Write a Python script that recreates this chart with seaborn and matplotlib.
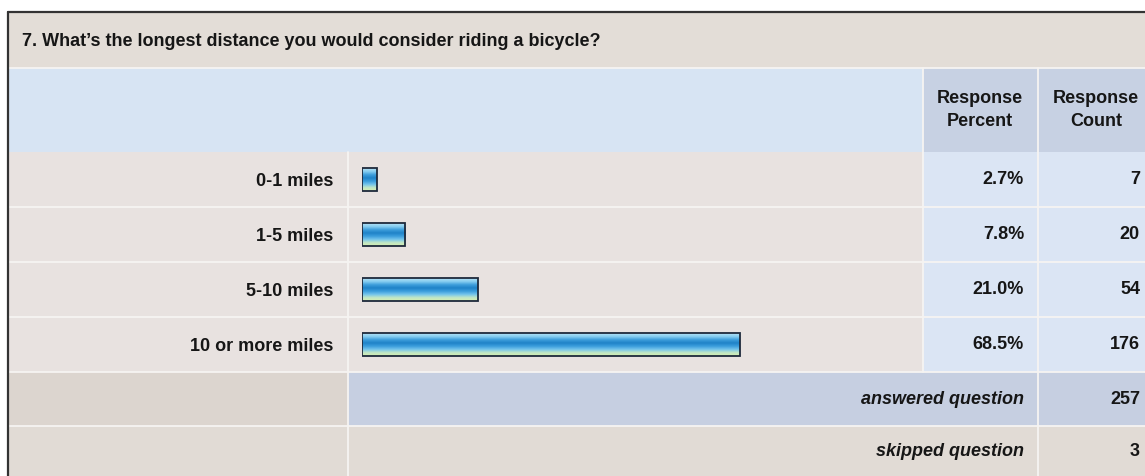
import numpy as np
import pandas as pd
import matplotlib
matplotlib.use("Agg")
import matplotlib.pyplot as plt
import matplotlib.transforms as mtransforms
from matplotlib.colors import LinearSegmentedColormap
from matplotlib.patches import Rectangle
import seaborn as sns

# ---- data ----
title = "7. What\u2019s the longest distance you would consider riding a bicycle?"
categories = ["0-1 miles", "1-5 miles", "5-10 miles", "10 or more miles"]
percent = [2.7, 7.8, 21.0, 68.5]
counts = [7, 20, 54, 176]
header_percent = "Response\nPercent"
header_count = "Response\nCount"
answered_label = "answered question"
answered_count = 257
skipped_label = "skipped question"
skipped_count = 3

sns.set_theme(style="white")
plt.rcParams["font.family"] = ["Liberation Sans", "DejaVu Sans"]

FS = 13
W, H = 1145, 476
fig = plt.figure(figsize=(W / 100, H / 100), dpi=100)
fig.patch.set_facecolor("white")

# background/table layout axes in pixel coordinates
bg = fig.add_axes([0, 0, 1, 1])
bg.set_xlim(0, W)
bg.set_ylim(H, 0)
bg.axis("off")

L, C1, C2, C3, R = 8, 348, 923, 1038, 1150
T, Y_HEAD, Y_ROWS = 12, 68, 152
ROW_H = 55
Y_ANS = Y_ROWS + ROW_H * len(categories)
Y_SKIP = Y_ANS + 54
B = 480

def cell(x0, y0, x1, y1, color):
    bg.add_patch(Rectangle((x0, y0), x1 - x0, y1 - y0, facecolor=color,
                           edgecolor="none", zorder=0))

cell(L, T, R, Y_HEAD, "#e3ddd7")
cell(L, Y_HEAD, C2, Y_ROWS, "#d7e4f3")
cell(C2, Y_HEAD, R, Y_ROWS, "#c7d1e3")
cell(L, Y_ROWS, C2, Y_ANS, "#e8e2e0")
cell(C2, Y_ROWS, R, Y_ANS, "#dbe5f4")
cell(L, Y_ANS, C1, Y_SKIP, "#dcd5cf")
cell(C1, Y_ANS, R, Y_SKIP, "#c6cfe1")
cell(L, Y_SKIP, R, B, "#e1dbd5")

sep = dict(color="#f6f4f2", lw=1.3, zorder=1)
for yy in [Y_HEAD] + [Y_ROWS + ROW_H * i for i in range(1, len(categories) + 1)] + [Y_SKIP]:
    bg.plot([L, R], [yy, yy], **sep)
bg.plot([C1, C1], [Y_ROWS, B], **sep)
bg.plot([C2, C2], [Y_HEAD, Y_ANS], **sep)
bg.plot([C3, C3], [Y_HEAD, B], **sep)

# outer border
bg.plot([L, L], [T, B], color="#333333", lw=1.6, zorder=5)
bg.plot([L, R], [T, T], color="#333333", lw=1.6, zorder=5)

txt = "#161616"
bg.text(22, (T + Y_HEAD) / 2 + 2, title, fontsize=FS, fontweight="bold",
        color=txt, ha="left", va="center")
bg.text(980, (Y_HEAD + Y_ROWS) / 2, header_percent, fontsize=FS,
        fontweight="bold", color=txt, ha="center", va="center", linespacing=1.5)
bg.text(1096, (Y_HEAD + Y_ROWS) / 2, header_count, fontsize=FS,
        fontweight="bold", color=txt, ha="center", va="center", linespacing=1.5)

# ---- bar axes ----
px_per_pct = 378 / 68.5
bar_left = 362
ax_w = 100 * px_per_pct
ax = fig.add_axes([bar_left / W, (H - Y_ANS) / H, ax_w / W, (ROW_H * len(categories)) / H])
ax.patch.set_alpha(0)
df = pd.DataFrame({"category": categories, "percent": percent})
sns.barplot(data=df, x="percent", y="category", orient="h", width=0.41,
            color="#2a8fd0", ax=ax)
ax.set_xlim(0, 100)
ax.set_ylim(len(categories) - 0.5, -0.5)
for s in ax.spines.values():
    s.set_visible(False)
ax.set_xticks([])
ax.set_xlabel("")
ax.set_ylabel("")
ax.tick_params(axis="y", length=0, pad=(bar_left - 333) * 72 / 100)
for lab in ax.get_yticklabels():
    lab.set_fontsize(FS)
    lab.set_fontweight("bold")
    lab.set_color(txt)

grad_cmap = LinearSegmentedColormap.from_list(
    "bar", ["#b6e2f6", "#86cdf0", "#3f9fdc", "#1f82c8", "#3a9ddc", "#74c4ec", "#bfe6c6", "#d8efb0"])
grad = np.linspace(0, 1, 64).reshape(-1, 1)
for p in list(ax.patches):
    x0, y0, w, h = p.get_x(), p.get_y(), p.get_width(), p.get_height()
    im = ax.imshow(grad, cmap=grad_cmap, aspect="auto", origin="upper",
                   extent=(x0, x0 + w, y0 + h, y0), zorder=2, interpolation="bilinear")
    im.set_clip_path(p)
    p.set_facecolor("none")
    p.set_edgecolor("#1e2a3c")
    p.set_linewidth(1.3)
    p.set_zorder(3)
ax.set_xlim(0, 100)
ax.set_ylim(len(categories) - 0.5, -0.5)

# value columns aligned to bar rows
trans = mtransforms.blended_transform_factory(bg.transData, ax.transData)
for i, (pc, cn) in enumerate(zip(percent, counts)):
    ax.text(1024, i, f"{pc:.1f}%", transform=trans, fontsize=FS,
            fontweight="bold", color=txt, ha="right", va="center")
    ax.text(1140, i, f"{cn}", transform=trans, fontsize=FS,
            fontweight="bold", color=txt, ha="right", va="center")

for label, cnt, y0, y1 in [(answered_label, answered_count, Y_ANS, Y_SKIP),
                           (skipped_label, skipped_count, Y_SKIP, B - 4)]:
    yc = (y0 + y1) / 2
    bg.text(1024, yc, label, fontsize=FS, fontweight="bold", fontstyle="italic",
            color=txt, ha="right", va="center")
    bg.text(1140, yc, f"{cnt}", fontsize=FS, fontweight="bold",
            color=txt, ha="right", va="center")

fig.savefig("out.png", dpi=100)
